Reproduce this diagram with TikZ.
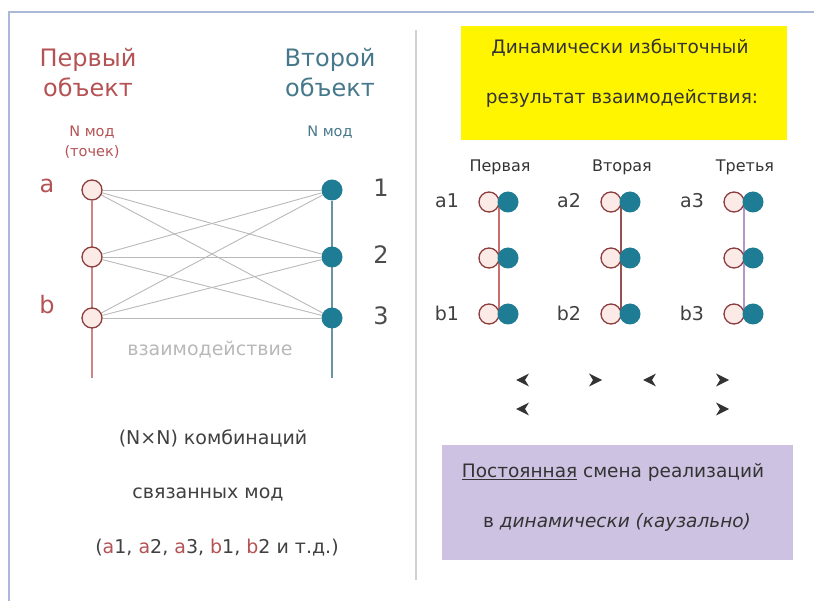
\documentclass[tikz,border=0pt]{standalone}
\usepackage{fontspec}
\setmainfont{DejaVu Sans}
\usetikzlibrary{backgrounds}
\definecolor{redtext}{RGB}{180,82,84}
\definecolor{bluetext}{RGB}{70,120,140}
\definecolor{modered}{RGB}{140,60,60}
\definecolor{modefill}{RGB}{252,234,230}
\definecolor{modeteal}{RGB}{30,125,148}
\definecolor{linkgrey}{RGB}{185,185,185}
\definecolor{frameblue}{RGB}{170,185,215}
\definecolor{boxyellow}{RGB}{255,245,0}
\definecolor{boxlilac}{RGB}{206,194,226}
\definecolor{lineone}{RGB}{200,110,110}
\definecolor{linetwo}{RGB}{150,80,80}
\definecolor{linethree}{RGB}{180,150,200}
\begin{document}
\begin{tikzpicture}[x=1pt, y=-1pt,
    openmode/.style={circle, draw=modered, fill=modefill, line width=1.3pt, minimum size=20pt, inner sep=0pt},
    fullmode/.style={circle, fill=modeteal, minimum size=21pt, inner sep=0pt},
    bigtext/.style={font=\fontsize{24}{30}\selectfont},
    smalltext/.style={font=\fontsize{14.5}{20}\selectfont},
    headtext/.style={font=\fontsize{16}{20}\selectfont, text=black!80},
    labeltext/.style={font=\fontsize{19}{22}\selectfont, text=black!75},
    midtext/.style={font=\fontsize{18.5}{22}\selectfont, text=black!75}]
    \useasboundingbox (0,0) rectangle (814,601);

    % Frame
    \draw[frameblue, line width=2pt] (9,601) -- (9,12) -- (814,12);
    \draw[black!18, line width=1.2pt] (416,30) -- (416,580);

    % Headings of the two objects
    \node[bigtext, text=redtext, align=center] (first) at (88,73) {Первый\\объект};
    \node[bigtext, text=bluetext, align=center] (second) at (330,73) {Второй\\объект};
    \node[smalltext, text=redtext, align=center] (firstN) at (92,142) {N мод\\(точек)};
    \node[smalltext, text=bluetext] (secondN) at (330,132) {N мод};

    % Modes
    \foreach \i/\y in {1/190, 2/257, 3/318} {
        \node[openmode] (l\i) at (92,\y) {};
        \node[fullmode] (r\i) at (332,\y) {};
        \node[bigtext, text=black!70] (n\i) at (381,\y-2) {\i};
    }
    \node[bigtext, text=redtext] (la) at (47,186) {a};
    \node[bigtext, text=redtext] (lb) at (47,305) {b};
    \coordinate (lend) at (92,378);
    \coordinate (rend) at (332,378);

    % Links between modes
    \begin{scope}[on background layer]
        \draw[redtext!70, line width=1.5pt] (l1) -- (lend);
        \draw[bluetext!80, line width=1.5pt] (r1) -- (rend);
        \foreach \i in {1,2,3}
            \foreach \j in {1,2,3}
                \draw[linkgrey, line width=0.9pt] (l\i) -- (r\j);
    \end{scope}
    \node[labeltext, text=black!28] (inter) at (210,350) {взаимодействие};

    % Combinations
    \node[labeltext] (comb) at (213,438) {(N×N) комбинаций};
    \node[labeltext] (bound) at (208,494) {связанных мод};
    \node[labeltext] (list) at (217,548) {(\textcolor{redtext}{a}1, \textcolor{redtext}{a}2, \textcolor{redtext}{a}3, \textcolor{redtext}{b}1, \textcolor{redtext}{b}2 и т.д.)};

    % Yellow box
    \fill[boxyellow] (461,26) rectangle (787,140);
    \node[midtext, text=black!80] (dyn1) at (620,48) {Динамически избыточный};
    \node[midtext, text=black!80] (dyn2) at (622,98) {результат взаимодействия:};

    % Three realisations
    \foreach \g/\x/\col/\name in {1/489/lineone/Первая, 2/611/linetwo/Вторая, 3/734/linethree/Третья} {
        \node[headtext] (h\g) at (\x+11,167) {\name};
        \begin{scope}[on background layer]
            \coordinate (top\g) at (\x+10,202);
            \coordinate (bot\g) at (\x+10,314);
            \draw[\col, line width=2.2pt] (top\g) -- (bot\g);
        \end{scope}
        \foreach \k/\y in {1/202, 2/258, 3/314} {
            \node[openmode] (o\g\k) at (\x,\y) {};
            \node[fullmode] (f\g\k) at (\x+19,\y) {};
        }
        \node[labeltext] (a\g) at (\x-42,201) {a\g};
        \node[labeltext] (b\g) at (\x-42,313) {b\g};
    }

    % Arrowheads
    \foreach \x/\y in {523/380, 650/380, 523/409}
        \fill[black!80] (\x-7,\y) -- (\x+6,\y-6.5) -- (\x+2,\y) -- (\x+6,\y+6.5) -- cycle;
    \foreach \x/\y in {595/380, 722/380, 722/409}
        \fill[black!80] (\x+7,\y) -- (\x-6,\y-6.5) -- (\x-2,\y) -- (\x-6,\y+6.5) -- cycle;

    % Lilac box
    \fill[boxlilac] (442,445) rectangle (793,560);
    \node[midtext, text=black!80] (const1) at (613,472) {\underline{Постоянная} смена реализаций};
    \node[midtext, text=black!80] (const2) at (617,522) {в \textit{динамически (каузально)}};
\end{tikzpicture}
\end{document}
